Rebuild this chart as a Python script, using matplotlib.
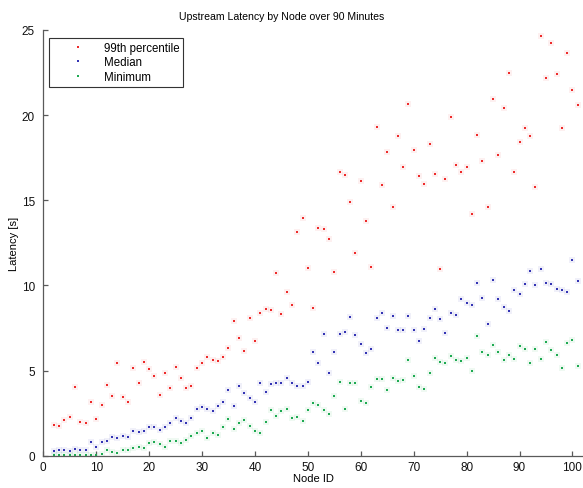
import numpy as np
import matplotlib

matplotlib.use("Agg")
import matplotlib.pyplot as plt  # noqa: E402

plt.rcParams["font.family"] = ["Liberation Sans", "DejaVu Sans"]

nodes = np.arange(2, 102)

p99 = [1.80, 1.74, 2.10, 2.29, 4.05, 1.96, 1.92, 3.17, 2.14, 2.98,
       4.13, 3.51, 5.46, 3.45, 3.15, 5.15, 4.27, 5.50, 5.11, 4.68,
       3.56, 4.84, 3.96, 5.22, 4.56, 3.96, 4.09, 5.15, 5.42, 5.80,
       5.62, 5.58, 5.78, 6.32, 7.89, 6.89, 6.17, 8.09, 6.74, 8.38,
       8.63, 8.56, 10.71, 8.30, 9.63, 8.87, 13.12, 13.96, 11.03, 8.69,
       13.39, 13.29, 12.74, 10.79, 16.68, 16.50, 14.90, 11.88, 16.11, 13.76,
       11.06, 19.30, 15.91, 17.83, 14.60, 18.79, 16.97, 20.65, 17.95, 16.40,
       15.93, 18.31, 16.52, 10.98, 16.25, 19.89, 17.07, 16.66, 16.93, 14.21,
       18.85, 17.32, 14.59, 20.95, 17.67, 20.42, 22.45, 16.64, 18.44, 19.24,
       18.77, 15.76, 24.66, 22.18, 24.21, 22.43, 19.26, 23.63, 21.46, 20.59]

median = [0.26, 0.35, 0.35, 0.29, 0.39, 0.33, 0.33, 0.79, 0.53, 0.79,
          0.86, 1.12, 1.02, 1.14, 1.08, 1.43, 1.41, 1.45, 1.69, 1.69,
          1.51, 1.69, 1.94, 2.19, 2.04, 1.92, 2.19, 2.72, 2.86, 2.72,
          2.62, 2.94, 3.15, 3.86, 2.92, 4.07, 3.66, 3.39, 3.15, 4.29,
          3.76, 4.23, 4.27, 4.25, 4.58, 4.27, 4.11, 4.11, 4.35, 6.09,
          5.46, 7.15, 4.84, 6.09, 7.17, 7.28, 8.13, 7.11, 6.58, 6.01,
          6.27, 8.09, 8.36, 7.52, 8.22, 7.36, 7.36, 8.20, 7.36, 6.75,
          7.42, 8.09, 8.63, 8.05, 7.22, 8.38, 8.28, 9.18, 8.98, 8.87,
          10.14, 9.26, 7.72, 10.30, 9.18, 8.71, 8.50, 9.73, 9.50, 10.10,
          10.83, 10.04, 10.96, 10.16, 10.06, 9.79, 9.75, 9.59, 11.47, 10.24]

minimum = [0.03, 0.03, 0.03, 0.03, 0.03, 0.03, 0.03, 0.04, 0.06, 0.08,
           0.31, 0.23, 0.14, 0.33, 0.33, 0.43, 0.51, 0.47, 0.75, 0.79,
           0.71, 0.53, 0.86, 0.86, 0.73, 0.92, 1.14, 1.31, 1.45, 1.06,
           1.31, 1.21, 1.70, 2.17, 1.59, 1.94, 2.11, 1.74, 1.45, 1.31,
           1.96, 2.66, 2.31, 2.60, 2.72, 2.21, 2.27, 2.06, 2.70, 3.11,
           2.96, 2.70, 2.45, 3.51, 4.31, 2.74, 4.27, 4.27, 3.23, 3.11,
           4.05, 4.48, 4.48, 3.84, 4.54, 4.37, 4.45, 5.62, 4.70, 4.05,
           3.90, 4.86, 5.75, 5.53, 5.46, 5.84, 5.62, 5.58, 5.72, 4.97,
           7.03, 6.11, 5.90, 6.52, 6.11, 5.64, 5.90, 5.66, 6.44, 6.28,
           5.44, 6.28, 5.70, 6.68, 6.21, 5.90, 5.13, 6.64, 6.79, 5.27]

series = [
    ("99th percentile", p99, "#ee2b2b"),
    ("Median", median, "#3434b4"),
    ("Minimum", minimum, "#1eaa52"),
]

fig = plt.figure(figsize=(5.83, 4.89), dpi=100)
ax = fig.add_axes([43.3 / 583, 32.3 / 489, 539.7 / 583, 425.7 / 489])

for label, ys, color in series:
    # soft halo around each dot, like the original render
    ax.plot(nodes, ys, linestyle="none", marker="s", markersize=4.8,
            markeredgewidth=0, color=color, alpha=0.07)
    ax.plot(nodes, ys, linestyle="none", marker="s", markersize=2.1,
            markeredgewidth=0, color=color, label=label)

ax.set_xlim(0, 102)
ax.set_ylim(0, 25)
ax.set_xticks(range(0, 101, 10))
ax.set_yticks(range(0, 26, 5))
for side in ("top", "right"):
    ax.spines[side].set_visible(False)
for side in ("left", "bottom"):
    ax.spines[side].set_color("#5a5a5a")
    ax.spines[side].set_linewidth(0.9)
ax.tick_params(direction="in", length=3.5, width=0.9, color="#5a5a5a",
               labelsize=8.5, labelcolor="#111111")
ax.tick_params(axis="y", pad=6)
ax.tick_params(axis="x", pad=4)

# the original title sits left of the axes centre
ax.set_title("Upstream Latency by Node over 90 Minutes", fontsize=7.6,
             pad=8, x=0.442)
ax.set_xlabel("Node ID", fontsize=8, labelpad=0)
ax.set_ylabel("Latency [s]", fontsize=8, labelpad=2)

leg = ax.legend(loc="upper left", bbox_to_anchor=(0.0106, 0.981),
                borderaxespad=0, fontsize=8.3, numpoints=1,
                handlelength=4.5, handletextpad=0.0, labelspacing=0.25,
                borderpad=0.3, fancybox=False, framealpha=1)
leg.get_frame().set_edgecolor("#333333")
leg.get_frame().set_linewidth(0.8)

fig.savefig("out.png", dpi=100)
